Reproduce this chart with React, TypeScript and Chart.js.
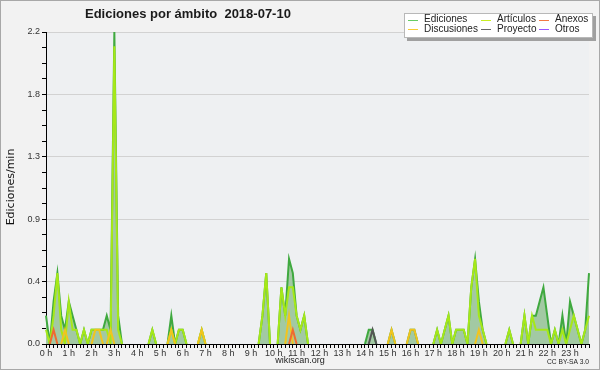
import { useEffect, useRef } from 'react';
import { Chart, registerables } from 'chart.js';

Chart.register(...registerables);

const hourLabels = [
  '0 h', '1 h', '2 h', '3 h', '4 h', '5 h', '6 h', '7 h', '8 h', '9 h', '10 h', '11 h',
  '12 h', '13 h', '14 h', '15 h', '16 h', '17 h', '18 h', '19 h', '20 h', '21 h', '22 h', '23 h',
];
const slotsPerHour = 6; // 10-minute slots

// Edits per minute, one value per 10-minute slot (12 slots = 2 hours per row)
const ediciones = [
  0.2, 0, 0.3, 0.5, 0.2, 0.1, 0.3, 0.2, 0.1, 0, 0.1, 0,
  0.1, 0.1, 0.1, 0.1, 0.2, 0.1, 2.2, 0.2, 0, 0, 0, 0,
  0, 0, 0, 0, 0.1, 0, 0, 0, 0, 0.2, 0, 0.1,
  0.1, 0, 0, 0, 0, 0.1, 0, 0, 0, 0, 0, 0,
  0, 0, 0, 0, 0, 0, 0, 0, 0, 0.2, 0.5, 0,
  0, 0, 0.4, 0.2, 0.6, 0.5, 0.2, 0.1, 0.2, 0, 0, 0,
  0, 0, 0, 0, 0, 0, 0, 0, 0, 0, 0, 0,
  0, 0.1, 0.1, 0, 0, 0, 0, 0.1, 0, 0, 0, 0,
  0.1, 0.1, 0, 0, 0, 0, 0, 0.1, 0, 0.1, 0.2, 0,
  0.1, 0.1, 0.1, 0, 0.4, 0.6, 0.3, 0.1, 0, 0, 0, 0,
  0, 0, 0.1, 0, 0, 0, 0.2, 0, 0.2, 0.2, 0.3, 0.4,
  0.2, 0, 0.1, 0, 0.2, 0, 0.3, 0.2, 0.1, 0, 0.1, 0.5,
];
const articulos = [
  0.1, 0, 0.2, 0.5, 0.1, 0, 0.3, 0.1, 0.1, 0, 0.1, 0,
  0.1, 0.1, 0.1, 0.1, 0.1, 0, 2.1, 0.1, 0, 0, 0, 0,
  0, 0, 0, 0, 0.1, 0, 0, 0, 0, 0.1, 0, 0.1,
  0.1, 0, 0, 0, 0, 0.1, 0, 0, 0, 0, 0, 0,
  0, 0, 0, 0, 0, 0, 0, 0, 0, 0.2, 0.5, 0,
  0, 0, 0.4, 0.2, 0.4, 0.4, 0.2, 0.1, 0.2, 0, 0, 0,
  0, 0, 0, 0, 0, 0, 0, 0, 0, 0, 0, 0,
  0, 0, 0, 0, 0, 0, 0, 0, 0, 0, 0, 0,
  0, 0, 0, 0, 0, 0, 0, 0.1, 0, 0.1, 0.2, 0,
  0.1, 0.1, 0.1, 0, 0.4, 0.6, 0.2, 0.1, 0, 0, 0, 0,
  0, 0, 0.1, 0, 0, 0, 0.2, 0, 0.2, 0.1, 0.1, 0.1,
  0.1, 0, 0.1, 0, 0.1, 0, 0.1, 0.2, 0.1, 0, 0.1, 0.2,
];
const anexos = [
  0, 0, 0.1, 0, 0, 0, 0, 0, 0, 0, 0, 0,
  0, 0, 0, 0, 0, 0, 0, 0, 0, 0, 0, 0,
  0, 0, 0, 0, 0, 0, 0, 0, 0, 0, 0, 0,
  0, 0, 0, 0, 0, 0, 0, 0, 0, 0, 0, 0,
  0, 0, 0, 0, 0, 0, 0, 0, 0, 0, 0, 0,
  0, 0, 0, 0, 0, 0.1, 0, 0, 0, 0, 0, 0,
  0, 0, 0, 0, 0, 0, 0, 0, 0, 0, 0, 0,
  0, 0, 0, 0, 0, 0, 0, 0, 0, 0, 0, 0,
  0, 0, 0, 0, 0, 0, 0, 0, 0, 0, 0, 0,
  0, 0, 0, 0, 0, 0, 0, 0, 0, 0, 0, 0,
  0, 0, 0, 0, 0, 0, 0, 0, 0, 0, 0, 0,
  0, 0, 0, 0, 0, 0, 0, 0, 0, 0, 0, 0,
];
const discusiones = [
  0, 0, 0, 0, 0, 0.1, 0, 0, 0, 0, 0, 0,
  0, 0.1, 0.1, 0, 0, 0.1, 0, 0, 0, 0, 0, 0,
  0, 0, 0, 0, 0, 0, 0, 0, 0, 0.1, 0, 0,
  0, 0, 0, 0, 0, 0.1, 0, 0, 0, 0, 0, 0,
  0, 0, 0, 0, 0, 0, 0, 0, 0, 0, 0, 0,
  0, 0, 0, 0, 0.2, 0, 0, 0, 0, 0, 0, 0,
  0, 0, 0, 0, 0, 0, 0, 0, 0, 0, 0, 0,
  0, 0, 0, 0, 0, 0, 0, 0.1, 0, 0, 0, 0,
  0.1, 0.1, 0, 0, 0, 0, 0, 0, 0, 0, 0, 0,
  0, 0, 0, 0, 0, 0, 0.1, 0, 0, 0, 0, 0,
  0, 0, 0, 0, 0, 0, 0, 0, 0, 0, 0, 0,
  0, 0, 0, 0, 0, 0, 0, 0, 0, 0, 0, 0,
];
const proyecto = [
  0, 0, 0, 0, 0, 0, 0, 0, 0, 0, 0, 0,
  0, 0, 0, 0, 0, 0, 0, 0, 0, 0, 0, 0,
  0, 0, 0, 0, 0, 0, 0, 0, 0, 0, 0, 0,
  0, 0, 0, 0, 0, 0, 0, 0, 0, 0, 0, 0,
  0, 0, 0, 0, 0, 0, 0, 0, 0, 0, 0, 0,
  0, 0, 0, 0, 0, 0, 0, 0, 0, 0, 0, 0,
  0, 0, 0, 0, 0, 0, 0, 0, 0, 0, 0, 0,
  0, 0, 0.1, 0, 0, 0, 0, 0, 0, 0, 0, 0,
  0, 0, 0, 0, 0, 0, 0, 0, 0, 0, 0, 0,
  0, 0, 0, 0, 0, 0, 0, 0, 0, 0, 0, 0,
  0, 0, 0, 0, 0, 0, 0, 0, 0, 0, 0, 0,
  0, 0, 0, 0, 0, 0, 0, 0, 0, 0, 0, 0,
];
const otros = new Array(144).fill(0);

const yMax = 2.2;
const yMinorStep = 0.11;
const yMajorEvery = 4;

const slotLabels = ediciones.map((_, i) => (i % slotsPerHour === 0 ? hourLabels[i / slotsPerHour] : ''));

const seriesColors = {
  ediciones: '#3fa93f',
  articulos: '#a6e818',
  anexos: '#f06a30',
  discusiones: '#f2c41e',
  proyecto: '#555555',
  otros: '#9a4cff',
};

const legendItems = [
  { label: 'Ediciones', color: '#66cc66', col: 0, row: 0 },
  { label: 'Discusiones', color: '#f7cc33', col: 0, row: 1 },
  { label: 'Artículos', color: '#c8ee22', col: 1, row: 0 },
  { label: 'Proyecto', color: '#666666', col: 1, row: 1 },
  { label: 'Anexos', color: '#f27a44', col: 2, row: 0 },
  { label: 'Otros', color: '#9955ff', col: 2, row: 1 },
];

const hideFlat = (ctx: any) =>
  ctx.p0.parsed.y === 0 && ctx.p1.parsed.y === 0 ? 'rgba(0,0,0,0)' : undefined;

const bgPlugin = {
  id: 'bg',
  beforeDraw(chart: any) {
    const { ctx, chartArea } = chart;
    ctx.save();
    ctx.fillStyle = '#f2f2f2';
    ctx.fillRect(0, 0, chart.width, chart.height);
    ctx.fillStyle = '#eef0f2';
    ctx.fillRect(chartArea.left, chartArea.top, chartArea.right - chartArea.left, chartArea.bottom - chartArea.top);
    ctx.restore();
  },
};

const overlayPlugin = {
  id: 'overlay',
  afterDraw(chart: any) {
    const { ctx } = chart;
    ctx.save();
    // outer border
    ctx.strokeStyle = '#a8a8a8';
    ctx.lineWidth = 1;
    ctx.strokeRect(0.5, 0.5, chart.width - 1, chart.height - 1);

    // title
    ctx.fillStyle = '#1a1a1a';
    ctx.font = 'bold 13px "Liberation Sans", Arial, sans-serif';
    ctx.textAlign = 'left';
    ctx.textBaseline = 'alphabetic';
    ctx.fillText('Ediciones por ámbito  2018-07-10', 85, 18);

    // y axis title
    ctx.save();
    ctx.translate(11, 187);
    ctx.rotate(-Math.PI / 2);
    ctx.font = '11px "DejaVu Sans", sans-serif';
    ctx.textAlign = 'center';
    ctx.textBaseline = 'middle';
    ctx.fillStyle = '#111';
    ctx.fillText('Ediciones/min', 0, 0);
    ctx.restore();

    // legend
    const bx = 404, by = 13, bw = 189, bh = 25;
    ctx.fillStyle = '#a0a0a0';
    ctx.fillRect(bx + 3, by + 3, bw, bh);
    ctx.fillStyle = '#ffffff';
    ctx.fillRect(bx, by, bw, bh);
    ctx.strokeStyle = '#b8b8b8';
    ctx.strokeRect(bx + 0.5, by + 0.5, bw - 1, bh - 1);
    const colLine = [408, 481, 539];
    const colText = [424, 497, 555];
    const rowY = [19.5, 29];
    ctx.font = '10px "Liberation Sans", Arial, sans-serif';
    ctx.textBaseline = 'middle';
    ctx.textAlign = 'left';
    legendItems.forEach((it) => {
      const y = rowY[it.row];
      ctx.strokeStyle = it.color;
      ctx.lineWidth = 1;
      ctx.beginPath();
      ctx.moveTo(colLine[it.col], Math.round(y) + 0.5);
      ctx.lineTo(colLine[it.col] + 10, Math.round(y) + 0.5);
      ctx.stroke();
      ctx.fillStyle = '#222';
      ctx.fillText(it.label, colText[it.col], y);
    });

    // footer
    ctx.fillStyle = '#222';
    ctx.font = '9px "Liberation Sans", Arial, sans-serif';
    ctx.textAlign = 'center';
    ctx.fillText('wikiscan.org', 300, 361);
    ctx.font = '7px "Liberation Sans", Arial, sans-serif';
    ctx.textAlign = 'right';
    ctx.fillText('CC BY-SA 3.0', 589, 362, 42);
    ctx.restore();
  },
};

const tickFont = { family: '"Liberation Sans", Arial, sans-serif', size: 9 };

export default function App() {
  const ref = useRef<HTMLCanvasElement>(null);
  useEffect(() => {
    document.body.style.margin = '0';
    const line = (label: string, data: number[], color: string, order: number, extra: any = {}) => ({
      label,
      data,
      borderColor: color,
      backgroundColor: color,
      borderWidth: 2,
      pointRadius: 0,
      tension: 0,
      fill: false,
      order,
      segment: { borderColor: hideFlat },
      ...extra,
    });
    const chart = new Chart(ref.current as HTMLCanvasElement, {
      type: 'line',
      data: {
        labels: slotLabels,
        datasets: [
          line('Ediciones', ediciones, seriesColors.ediciones, 10, { fill: 'origin', backgroundColor: '#a2c9a3' }),
          line('Artículos', articulos, seriesColors.articulos, 9),
          line('Anexos', anexos, seriesColors.anexos, 2),
          line('Discusiones', discusiones, seriesColors.discusiones, 3),
          line('Proyecto', proyecto, seriesColors.proyecto, 1),
          line('Otros', otros, seriesColors.otros, 0),
        ] as any,
      },
      options: {
        animation: false,
        responsive: false,
        devicePixelRatio: 1,
        layout: { padding: { left: 0, right: 11, top: 32, bottom: 0 } },
        plugins: {
          legend: { display: false },
          tooltip: { enabled: false },
          title: { display: false },
        },
        scales: {
          x: {
            type: 'category',
            z: 1,
            grid: { drawOnChartArea: false, tickLength: 4, tickColor: '#000', tickWidth: 1 },
            border: { color: '#000', width: 1 },
            ticks: { autoSkip: false, maxRotation: 0, minRotation: 0, padding: 0, color: '#333', font: tickFont },
            afterFit: (s: any) => { s.height = 26; },
          },
          y: {
            type: 'linear',
            min: 0,
            max: yMax,
            afterBuildTicks: (s: any) => {
              const n = Math.round(yMax / yMinorStep);
              s.ticks = Array.from({ length: n + 1 }, (_, k) => ({ value: +(k * yMinorStep).toFixed(4) }));
            },
            grid: {
              color: (c: any) => (c.index % yMajorEvery === 0 ? '#d2d2d2' : 'rgba(0,0,0,0)'),
              tickColor: '#000',
              tickLength: 4,
            },
            border: { color: '#000', width: 1 },
            ticks: {
              autoSkip: false,
              padding: 2,
              color: '#333',
              font: tickFont,
              callback: (v: any, i: number) => (i % yMajorEvery === 0 ? Number(v).toFixed(1) : ''),
            },
            afterFit: (s: any) => { s.width = 46; },
          },
        },
      } as any,
      plugins: [bgPlugin, overlayPlugin],
    });
    return () => chart.destroy();
  }, []);
  return <canvas ref={ref} width={600} height={370} style={{ display: 'block', width: 600, height: 370 }} />;
}
